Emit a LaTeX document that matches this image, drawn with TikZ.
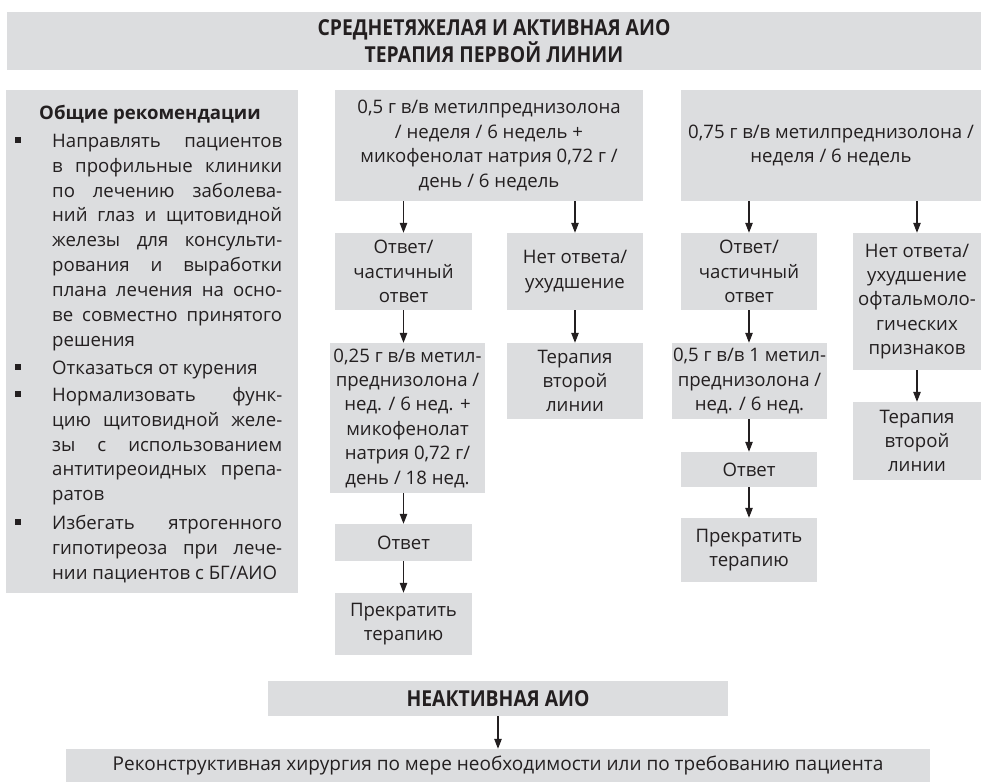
\documentclass[tikz,border=0pt]{standalone}
\usepackage{fontspec}
\setmainfont{Open Sans}
\newfontfamily\hdfont[FakeStretch=0.88]{Open Sans}
\usetikzlibrary{arrows.meta}
\definecolor{boxgray}{RGB}{220,221,223}
\definecolor{ink}{RGB}{35,31,32}
\newcommand\myjl[1]{\hspace*{46pt}\makebox[230pt][s]{#1}\par}
\newcommand\mylastl[1]{\hspace*{46pt}#1\par}
\newcommand\mybjl[1]{\hspace*{9pt}\rule[4pt]{6pt}{6pt}\hspace*{31pt}\makebox[230pt][s]{#1}\par}
\newcommand\mybll[1]{\hspace*{9pt}\rule[4pt]{6pt}{6pt}\hspace*{31pt}#1\par}
\begin{document}
\begin{tikzpicture}[x=1pt,y=-1pt,
  box/.style={fill=boxgray, inner sep=0pt, align=center, text=ink, font=\fontsize{18.6}{24.4}\selectfont},
  arr/.style={draw=ink, line width=1.1pt, -{Triangle[length=10pt,width=7.5pt]}}]
\useasboundingbox (0,0) rectangle (988,782);

\node[box, minimum width=974pt, minimum height=58pt, font=\hdfont\bfseries\fontsize{22}{21}\selectfont] (hdr) at (494,41) {СРЕДНЕТЯЖЕЛАЯ И АКТИВНАЯ АИО\\ТЕРАПИЯ ПЕРВОЙ ЛИНИИ};

\node[box, anchor=north west, minimum width=292pt, minimum height=503pt, align=left] (gen) at (6,90) {\begin{minipage}[t][503pt][t]{292pt}
\fontsize{18.6}{24.9}\selectfont\parindent0pt\parskip0pt
\rule{0pt}{29pt}\hspace*{33pt}\textbf{Общие рекомендации}\par
\vspace{3.1pt}
\mybjl{Направлять пациентов}
\myjl{в профильные клиники}
\myjl{по лечению заболева-}
\myjl{ний глаз и щитовидной}
\myjl{железы для консульти-}
\myjl{рования и выработки}
\myjl{плана лечения на осно-}
\myjl{ве совместно принятого}
\mylastl{решения}
\vspace{3pt}
\mybll{Отказаться от курения}
\vspace{2pt}
\mybjl{Нормализовать функ-}
\myjl{цию щитовидной желе-}
\myjl{зы с использованием}
\myjl{антитиреоидных препа-}
\mylastl{ратов}
\vspace{3.5pt}
\mybjl{Избегать ятрогенного}
\myjl{гипотиреоза при лече-}
\mylastl{нии пациентов с БГ/АИО}
\end{minipage}};

% middle column
\node[box, minimum width=308pt, minimum height=111pt] (m1) at (489,145.5) {0,5 г в/в метилпреднизолона\\/ неделя / 6 недель +\\микофенолат натрия 0,72 г /\\день / 6 недель};
\node[box, minimum width=137pt, minimum height=77pt] (a1) at (403.5,271.5) {Ответ/\\частичный\\ответ};
\node[box, minimum width=136pt, minimum height=77pt] (n1) at (575,271.5) {Нет ответа/\\ухудшение};
\node[box, minimum width=155pt, minimum height=150pt] (m2) at (407.5,418) {0,25 г в/в метил-\\преднизолона /\\нед. / 6 нед. +\\микофенолат\\натрия 0,72 г/\\день / 18 нед.};
\node[box, minimum width=136pt, minimum height=76pt] (t1) at (575,381) {Терапия\\второй\\линии};
\node[box, minimum width=137pt, minimum height=37pt] (r1) at (403.5,542.5) {Ответ};
\node[box, minimum width=137pt, minimum height=62pt] (s1) at (403.5,624) {Прекратить\\терапию};

% right column
\node[box, minimum width=300pt, minimum height=111pt] (m3) at (831,145.5) {0,75 г в/в метилпреднизолона /\\неделя / 6 недель};
\node[box, minimum width=136pt, minimum height=77pt] (a2) at (749,271.5) {Ответ/\\частичный\\ответ};
\node[box, minimum width=128pt, minimum height=137pt] (n2) at (917,301.5) {Нет ответа/\\ухудшение\\офтальмоло-\\гических\\признаков};
\node[box, minimum width=155pt, minimum height=76pt] (m4) at (749.5,381) {0,5 г в/в 1 метил-\\преднизолона /\\нед. / 6 нед.};
\node[box, minimum width=136pt, minimum height=35pt] (r2) at (749,469.5) {Ответ};
\node[box, minimum width=136pt, minimum height=64pt] (s2) at (749,550) {Прекратить\\терапию};
\node[box, minimum width=128pt, minimum height=78pt] (t2) at (917,441) {Терапия\\второй\\линии};

% bottom
\node[box, minimum width=460pt, minimum height=35pt, font=\hdfont\bfseries\fontsize{22}{21}\selectfont] (neak) at (498,698.5) {НЕАКТИВНАЯ АИО};
\node[box, minimum width=864pt, minimum height=33pt, font=\fontsize{19}{22}\selectfont] (surg) at (498,765.5) {Реконструктивная хирургия по мере необходимости или по требованию пациента};

% arrows
\draw[arr] (a1.north |- m1.south) -- (a1.north);
\draw[arr] (n1.north |- m1.south) -- (n1.north);
\draw[arr] (a1.south) -- (a1.south |- m2.north);
\draw[arr] (n1.south) -- (t1.north);
\draw[arr] (r1.north |- m2.south) -- (r1.north);
\draw[arr] (r1.south) -- (s1.north);
\draw[arr] (a2.north |- m3.south) -- (a2.north);
\draw[arr] (n2.north |- m3.south) -- (n2.north);
\draw[arr] (a2.south) -- (a2.south |- m4.north);
\draw[arr] (r2.north |- m4.south) -- (r2.north);
\draw[arr] (r2.south) -- (s2.north);
\draw[arr] (n2.south) -- (t2.north);
\draw[arr] (neak.south) -- (neak.south |- surg.north);
\end{tikzpicture}
\end{document}
